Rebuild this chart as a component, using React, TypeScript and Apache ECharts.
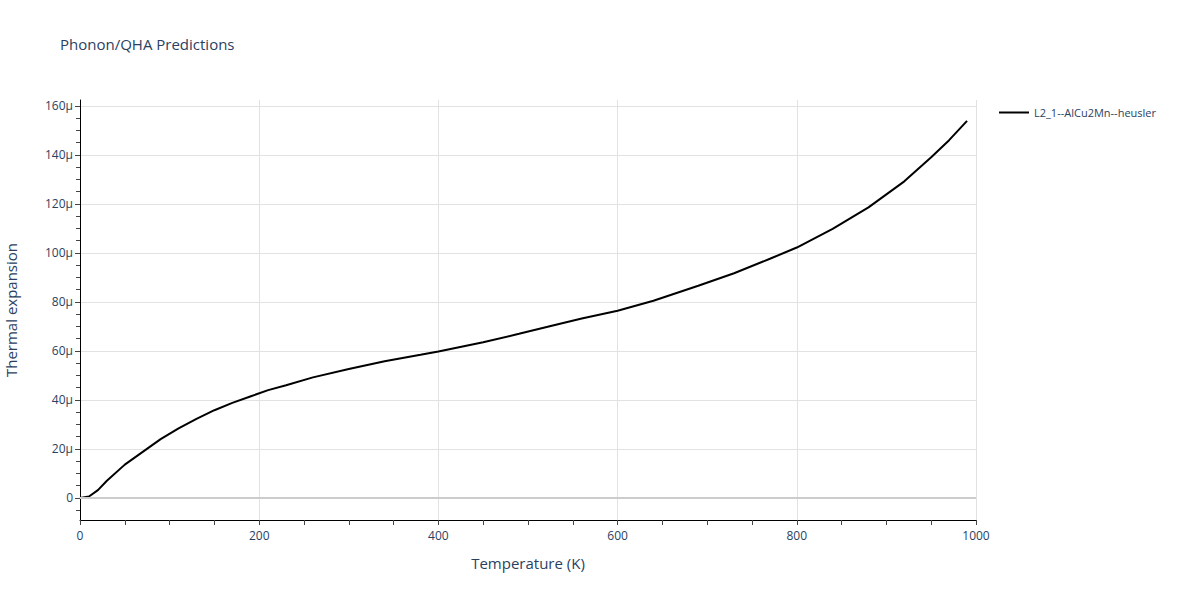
import React, { useEffect, useRef } from "react";
import * as echarts from "echarts";

// Temperature (K)
const temperatures = [0, 10, 20, 30, 50, 70, 90, 110, 130, 150, 170, 190, 210, 230, 260, 300, 340, 380, 400, 450, 490, 530, 560, 600, 640, 690, 730, 770, 800, 840, 880, 920, 950, 970, 990];
// Thermal expansion in units of 1e-6 (μ)
const expansion = [0, 0.6, 3.2, 7.0, 13.6, 18.8, 24.0, 28.4, 32.3, 35.8, 38.8, 41.4, 44.0, 46.0, 49.2, 52.6, 55.8, 58.4, 59.8, 63.5, 67.0, 70.6, 73.2, 76.4, 80.5, 86.6, 91.7, 97.6, 102.2, 109.8, 118.6, 129.2, 139.0, 146.0, 153.9];

const seriesName = "L2_1--AlCu2Mn--heusler";
const yMajorTicks = [0, 20, 40, 60, 80, 100, 120, 140, 160];
const yMinorTicks = [-5, 5, 10, 15, 25, 30, 35, 45, 50, 55, 65, 70, 75, 85, 90, 95, 105, 110, 115, 125, 130, 135, 145, 150, 155];

const FONT = "'Open Sans', verdana, arial, sans-serif";
const TEXT = "#2a3f5f";

export default function App() {
  const ref = useRef<HTMLDivElement>(null);
  useEffect(() => {
    if (!ref.current) return;
    const chart = echarts.init(ref.current, undefined, { renderer: "svg" });
    const data = temperatures.map((t, i) => [t, expansion[i]]);
    chart.setOption({
      animation: false,
      backgroundColor: "#fff",
      textStyle: { fontFamily: FONT },
      title: {
        text: "Phonon/QHA Predictions",
        left: 55,
        top: 31,
        textStyle: { fontFamily: FONT, fontSize: 15, fontWeight: "normal", color: TEXT },
      },
      legend: {
        left: 994,
        top: 102,
        itemWidth: 30,
        itemHeight: 14,
        textStyle: { fontFamily: FONT, fontSize: 11, color: TEXT },
        data: [{ name: seriesName, icon: "path://M0,6 L30,6 L30,8 L0,8 Z" }],
      },
      grid: { left: 80, right: 224, top: 100, bottom: 80, outerBoundsMode: "none" },
      xAxis: {
        type: "value",
        min: 0,
        max: 1000,
        interval: 200,
        name: "Temperature (K)",
        nameLocation: "middle",
        nameGap: 35,
        nameTextStyle: { fontFamily: FONT, fontSize: 15, color: TEXT },
        axisLine: { onZero: false, lineStyle: { color: "#000", width: 1 } },
        axisTick: { show: true, length: 5, lineStyle: { color: "#444" } },
        minorTick: { show: true, splitNumber: 4, length: 5, lineStyle: { color: "#444" } },
        axisLabel: { fontFamily: FONT, fontSize: 12, color: TEXT, margin: 9, formatter: (v: number) => String(v) },
        splitLine: { show: true, lineStyle: { color: "#e2e2e2", width: 1 } },
      },
      yAxis: [
        {
          type: "value",
          min: -9,
          max: 162.4,
          name: "Thermal expansion",
          nameLocation: "middle",
          nameGap: 62,
          nameTextStyle: { fontFamily: FONT, fontSize: 15, color: TEXT },
          axisLine: { show: true, lineStyle: { color: "#000", width: 1 } },
          axisTick: { show: true, length: 5, customValues: yMajorTicks, lineStyle: { color: "#444" } },
          axisLabel: {
            fontFamily: FONT,
            fontSize: 12,
            color: TEXT,
            margin: 7,
            customValues: yMajorTicks,
            formatter: (v: number) => (v === 0 ? "0" : `${v}μ`),
          },
          splitLine: { show: true, lineStyle: { color: "#e2e2e2", width: 1 } },
        },
        {
          type: "value",
          min: -9,
          max: 162.4,
          position: "left",
          axisLine: { show: false },
          axisTick: { show: true, length: 4, customValues: yMinorTicks, lineStyle: { color: "#444" } },
          axisLabel: { show: false },
          splitLine: { show: false },
        },
      ],
      series: [
        {
          name: seriesName,
          type: "line",
          data,
          symbol: "none",
          lineStyle: { color: "#000", width: 2 },
          itemStyle: { color: "#000" },
          markLine: {
            silent: true,
            symbol: "none",
            label: { show: false },
            lineStyle: { color: "#cccccc", width: 2, type: "solid" },
            data: [{ yAxis: 0 }],
          },
          z: 3,
        },
      ],
    });
    return () => chart.dispose();
  }, []);
  return <div ref={ref} style={{ width: 1200, height: 600, position: "absolute", left: 0, top: 0 }} />;
}
